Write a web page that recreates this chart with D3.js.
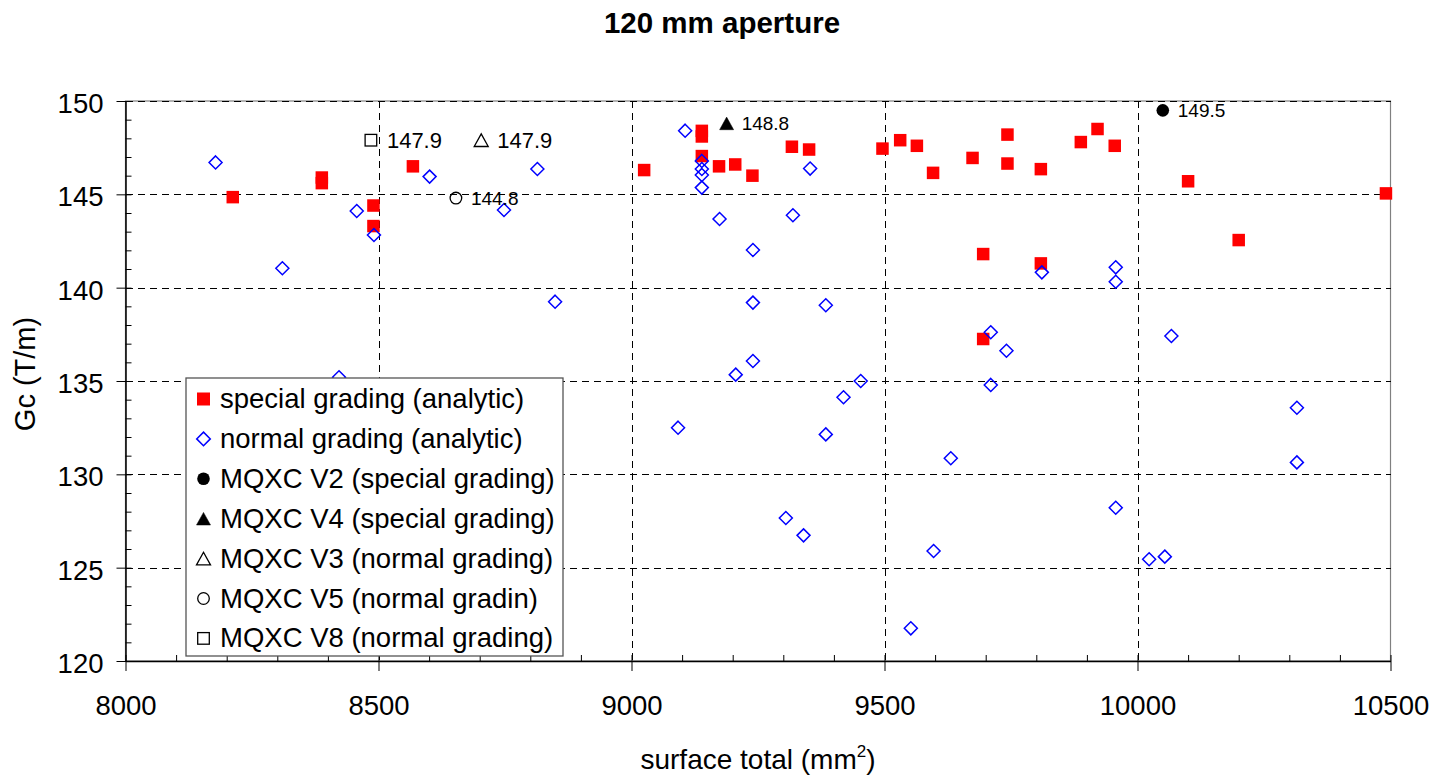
<!DOCTYPE html>
<html>
<head>
<meta charset="utf-8">
<script src="https://cdn.jsdelivr.net/npm/d3@7/dist/d3.min.js"></script>
<style>
  html, body { margin: 0; padding: 0; background: #fff; }
  svg { display: block; font-family: "Liberation Sans", Arial, sans-serif; }
</style>
</head>
<body>
<svg id="chart" width="1433" height="775"></svg>
<script>
// ---------------- data ----------------
const specialX = [8212, 8388, 8388, 8490, 8490, 8568, 9025, 9139, 9139, 9139, 9173, 9205, 9239, 9317, 9351,
                  9496, 9531, 9564, 9596, 9674, 9743, 9743, 9809, 9888, 9921, 9955, 10100, 10491, 10200, 9695, 9809, 9695];
const specialY = [144.85, 145.9, 145.6, 144.4, 143.3, 146.5, 146.3, 148.4, 148.1, 147.05, 146.5, 146.6, 146.0, 147.55, 147.4,
                  147.45, 147.9, 147.6, 146.15, 146.95, 148.2, 146.65, 146.35, 147.8, 148.5, 147.6, 145.7, 145.05, 142.55, 141.8, 141.3, 137.25];

const normalX = [8178, 8310, 8422, 8457, 8491, 8601, 8748, 8814, 8849, 9092, 9106, 9139, 9139, 9139, 9139,
                 9174, 9206, 9240, 9240, 9240, 9305, 9319, 9340, 9353, 9384, 9384, 9419, 9453, 9552, 9597,
                 9631, 9710, 9710, 9741, 9811, 9957, 9957, 9957, 10023, 10054, 10067, 10315, 10315];
const normalY = [146.71, 141.04, 135.2, 144.11, 142.82, 145.95, 144.16, 146.36, 139.25, 132.5, 148.41, 146.79, 146.36, 146.04, 145.36,
                 143.68, 135.34, 142.02, 139.2, 136.07, 127.66, 143.88, 126.73, 146.38, 139.06, 132.14, 134.13, 135.0, 121.75, 125.89,
                 130.86, 137.61, 134.79, 136.62, 140.82, 141.09, 140.32, 128.21, 125.45, 125.59, 137.41, 133.57, 130.64];

const mqxcNames  = ["MQXC V2 (special grading)", "MQXC V4 (special grading)", "MQXC V3 (normal grading)",
                    "MQXC V5 (normal gradin)", "MQXC V8 (normal grading)"];
const mqxcShapes = ["circleFilled", "triangleFilled", "triangleOpen", "circleOpen", "squareOpen"];
const mqxcX      = [10050, 9188, 8703, 8653, 8485];
const mqxcY      = [149.5, 148.8, 147.9, 144.8, 147.9];
const mqxcLabels = ["149.5", "148.8", "147.9", "144.8", "147.9"];

const seriesNames = ["special grading (analytic)", "normal grading (analytic)"];
const xTicks = [8000, 8500, 9000, 9500, 10000, 10500];
const yTicks = [120, 125, 130, 135, 140, 145, 150];
const titleText = "120 mm aperture";
const yTitle = "Gc (T/m)";

// ---------------- layout ----------------
const svg = d3.select("#chart");
svg.append("rect").attr("width", 1433).attr("height", 775).attr("fill", "#fff");

const L = 125.5, R = 1390.5, T = 101, B = 661;
const x = d3.scaleLinear().domain([8000, 10500]).range([L, R]);
const y = d3.scaleLinear().domain([120, 150]).range([B, T]);

// title
svg.append("text").attr("x", 722).attr("y", 33).attr("text-anchor", "middle")
  .attr("font-size", 29.5).attr("font-weight", "bold").text(titleText);

// plot frame (gray)
svg.append("rect").attr("x", L).attr("y", T).attr("width", R - L).attr("height", B - T)
  .attr("fill", "none").attr("stroke", "#808080").attr("stroke-width", 1.2);

// gridlines
const grid = svg.append("g").attr("stroke", "#000").attr("stroke-width", 1)
  .attr("stroke-dasharray", "7,5").attr("shape-rendering", "crispEdges");
grid.selectAll("line.v").data(xTicks.filter(d => d > 8000 && d < 10500)).join("line")
  .attr("x1", d => Math.round(x(d)) + 0.5).attr("x2", d => Math.round(x(d)) + 0.5)
  .attr("y1", T).attr("y2", B);
grid.selectAll("line.h").data(yTicks.filter(d => d > 120)).join("line")
  .attr("y1", d => Math.round(y(d)) + 0.5).attr("y2", d => Math.round(y(d)) + 0.5)
  .attr("x1", L).attr("x2", R);

// minor ticks
const minorX = d3.range(8100, 10500, 100).filter(d => d % 500 !== 0);
const minorY = d3.range(121, 150, 1).filter(d => d % 5 !== 0);
svg.append("g").attr("transform", `translate(0,${B})`)
  .call(d3.axisBottom(x).tickValues(minorX).tickSize(-6).tickFormat(""))
  .call(g => g.select(".domain").remove())
  .call(g => g.selectAll("line").attr("stroke", "#000"));
svg.append("g").attr("transform", `translate(${L},0)`)
  .call(d3.axisLeft(y).tickValues(minorY).tickSize(-6).tickFormat(""))
  .call(g => g.select(".domain").remove())
  .call(g => g.selectAll("line").attr("stroke", "#000"));

// x axis
svg.append("g").attr("transform", `translate(0,${B})`)
  .call(d3.axisBottom(x).tickValues(xTicks).tickSize(9).tickPadding(0).tickSizeOuter(0).tickFormat(d3.format("d")))
  .call(g => g.select(".domain").attr("stroke", "#000").attr("stroke-width", 1.5))
  .call(g => g.selectAll(".tick line").attr("y1", -6).attr("y2", 10).attr("stroke", "#000"))
  .call(g => g.selectAll(".tick text").attr("y", 54).attr("dy", 0)
      .attr("font-size", 27.5).attr("font-family", "Liberation Sans, Arial, sans-serif").attr("fill", "#000"));

// y axis
svg.append("g").attr("transform", `translate(${L},0)`)
  .call(d3.axisLeft(y).tickValues(yTicks).tickSize(9).tickSizeOuter(0).tickFormat(d3.format("d")))
  .call(g => g.select(".domain").attr("stroke", "#000").attr("stroke-width", 1.5))
  .call(g => g.selectAll(".tick line").attr("x1", 6).attr("x2", -9).attr("stroke", "#000"))
  .call(g => g.selectAll(".tick text").attr("x", -22).attr("dy", "0.42em")
      .attr("font-size", 27.5).attr("font-family", "Liberation Sans, Arial, sans-serif").attr("fill", "#000"));

// axis titles
const xt = svg.append("text").attr("x", 758).attr("y", 769).attr("text-anchor", "middle").attr("font-size", 28);
xt.append("tspan").text("surface total (mm");
xt.append("tspan").attr("font-size", 17).attr("dy", -12).text("2");
xt.append("tspan").attr("dy", 12).text(")");

svg.append("text").attr("transform", "translate(35,374) rotate(-90)").attr("text-anchor", "middle")
  .attr("font-size", 29).text(yTitle);

// ---------------- marks ----------------
const special = specialX.map((v, i) => ({x: v, y: specialY[i]}));
const normal = normalX.map((v, i) => ({x: v, y: normalY[i]}));
const mqxc = mqxcX.map((v, i) => ({x: v, y: mqxcY[i], shape: mqxcShapes[i], label: mqxcLabels[i]}));

const SQ = 12.5;
svg.append("g").selectAll("rect").data(special).join("rect")
  .attr("x", d => x(d.x) - SQ / 2).attr("y", d => y(d.y) - SQ / 2)
  .attr("width", SQ).attr("height", SQ).attr("fill", "#ff0000");

const diamond = (cx, cy, r) => `M${cx},${cy - r}L${cx + r},${cy}L${cx},${cy + r}L${cx - r},${cy}Z`;
svg.append("g").selectAll("path").data(normal).join("path")
  .attr("d", d => diamond(x(d.x), y(d.y), 6.5))
  .attr("fill", "none").attr("stroke", "#0000ff").attr("stroke-width", 1.5);

function drawShape(g, shape, cx, cy) {
  if (shape === "circleFilled") {
    g.append("circle").attr("cx", cx).attr("cy", cy).attr("r", 6.3).attr("fill", "#000");
  } else if (shape === "circleOpen") {
    g.append("circle").attr("cx", cx).attr("cy", cy).attr("r", 5.8).attr("fill", "none").attr("stroke", "#000").attr("stroke-width", 1.3);
  } else if (shape === "triangleFilled" || shape === "triangleOpen") {
    const w = 7, h = 6.3;
    g.append("path").attr("d", `M${cx},${cy - h}L${cx + w},${cy + h}L${cx - w},${cy + h}Z`)
      .attr("fill", shape === "triangleFilled" ? "#000" : "none")
      .attr("stroke", "#000").attr("stroke-width", shape === "triangleFilled" ? 0.5 : 1.3);
  } else if (shape === "squareOpen") {
    g.append("rect").attr("x", cx - 5.8).attr("y", cy - 5.8).attr("width", 11.6).attr("height", 11.6)
      .attr("fill", "none").attr("stroke", "#000").attr("stroke-width", 1.3);
  }
}

const mg = svg.append("g");
mqxc.forEach(d => {
  const cx = x(d.x), cy = y(d.y);
  drawShape(mg, d.shape, cx, cy);
  const big = d.label === "147.9";
  mg.append("text").attr("x", cx + (big ? 16 : 15)).attr("y", cy).attr("dy", "0.36em")
    .attr("font-size", big ? 22 : 19).text(d.label);
});

// ---------------- legend ----------------
const lg = svg.append("g");
lg.append("rect").attr("x", 186).attr("y", 378).attr("width", 377).attr("height", 278)
  .attr("fill", "#fff").attr("stroke", "#555").attr("stroke-width", 1.3);
const legendItems = [
  {name: seriesNames[0], shape: "redSquare"},
  {name: seriesNames[1], shape: "diamond"},
  ...mqxcNames.map((n, i) => ({name: n, shape: mqxcShapes[i]}))
];
legendItems.forEach((it, i) => {
  const cy = 399 + i * 39.9, cx = 203.5;
  if (it.shape === "redSquare") {
    lg.append("rect").attr("x", cx - 6.5).attr("y", cy - 6.5).attr("width", 13).attr("height", 13).attr("fill", "#ff0000");
  } else if (it.shape === "diamond") {
    lg.append("path").attr("d", diamond(cx, cy, 6.8)).attr("fill", "none").attr("stroke", "#0000ff").attr("stroke-width", 1.5);
  } else {
    drawShape(lg, it.shape, cx, cy);
  }
  lg.append("text").attr("x", 220).attr("y", cy + 9).attr("font-size", 27.5).text(it.name);
});
</script>
</body>
</html>
